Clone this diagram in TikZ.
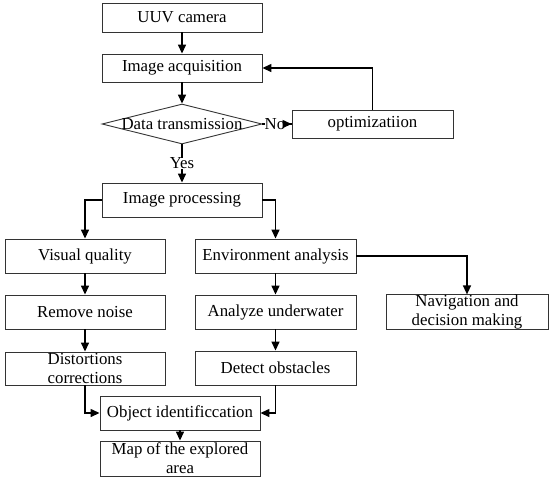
\documentclass[tikz,border=0pt]{standalone}
\usepackage{fontspec}
\setmainfont{Liberation Serif}
\usetikzlibrary{arrows.meta,shapes.geometric}
\begin{document}
\begin{tikzpicture}[x=1pt,y=-1pt,
  box/.style={draw=black!80,line width=0.9pt,inner sep=0pt,minimum width=160,minimum height=34,
    font=\fontsize{16.8}{19}\selectfont,align=center},
  conn/.style={line width=1.4pt,-{Triangle[length=9pt,width=8pt]}},
  lbl/.style={fill=white,inner sep=0pt,font=\fontsize{16.8}{19}\selectfont}]
\useasboundingbox (0,0) rectangle (550,480);
% nodes
\node[box,minimum height=29] (cam) at (182,17.5) {UUV camera};
\node[box,minimum height=28] (acq) at (182,68) {Image acquisition};
\node[diamond,draw=black!80,line width=0.9pt,minimum width=160,minimum height=40,inner sep=0pt] (dt) at (182,124) {};
\node[font=\fontsize{16.8}{19}\selectfont] (dttext) at (dt.center) {Data transmission};
\node[box,minimum width=161,minimum height=28] (opt) at (372.5,124) {optimizatiion};
\node[box] (proc) at (182,200) {Image processing};
\node[box] (vq) at (85,256) {Visual quality};
\node[box,minimum width=161] (env) at (275.5,256) {Environment analysis};
\node[box] (rn) at (85,312) {Remove noise};
\node[box,minimum width=161] (au) at (275.5,312) {Analyze underwater};
\node[box,minimum width=162] (nav) at (467,312) {Navigation and\\decision making};
\node[box,minimum height=33] (dc) at (85,368.5) {Distortions\\corrections};
\node[box,minimum width=161] (do) at (275.5,368) {Detect obstacles};
\node[box] (oi) at (180,413) {Object identificcation};
\node[box,minimum height=35] (map) at (180,458.5) {Map of the explored\\area};
% connectors
\draw[conn] (cam) -- (acq);
\draw[conn] (acq) -- (dt);
\draw[line width=1.4pt] (dt.east) -- (opt.west);
\node[lbl] (no) at (275,124) {No};
\draw[conn] ([xshift=-7pt]opt.west) -- (opt.west);
\draw[conn] (opt.north) |- (acq.east);
\draw[conn] (dt.south) -- node[lbl] {Yes} (proc.north);
\draw[conn] (proc.west) -| (vq.north);
\draw[conn] (proc.east) -| (env.north);
\draw[conn] (env.east) -| (nav.north);
\draw[conn] (vq) -- (rn);
\draw[conn] (env) -- (au);
\draw[conn] (rn) -- (dc);
\draw[conn] (au) -- (do);
\draw[conn] (dc.south) |- (oi.west);
\draw[conn] (do.south) |- (oi.east);
\draw[conn] (oi) -- (map);
\end{tikzpicture}
\end{document}
